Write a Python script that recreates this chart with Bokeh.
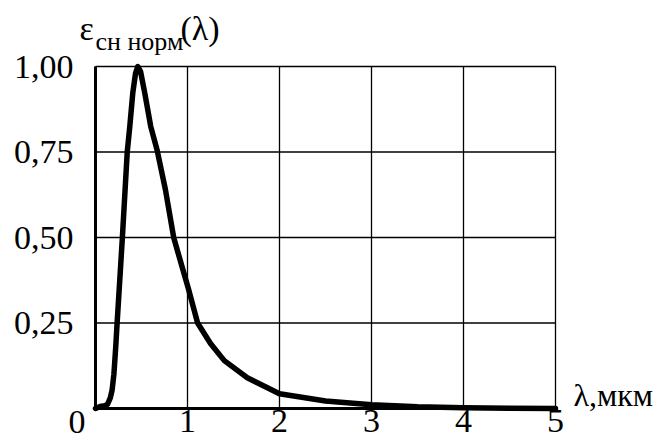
from bokeh.plotting import figure
from bokeh.models import Range1d, FixedTicker, Label, LinearAxis
from bokeh.embed import file_html
from bokeh.resources import INLINE

# Normalised spectral emissivity versus wavelength
wavelength_um = [0.0, 0.05, 0.10, 0.13, 0.16, 0.18, 0.20, 0.22, 0.235, 0.29, 0.345,
                 0.373, 0.405, 0.435, 0.46, 0.49, 0.536, 0.60, 0.67, 0.76, 0.85,
                 0.94, 1.01, 1.11, 1.25, 1.40, 1.65, 2.0, 2.5, 3.0, 3.5, 4.0, 4.5, 5.0]
emissivity_norm = [0.0, 0.006, 0.008, 0.012, 0.03, 0.053, 0.10, 0.18, 0.25, 0.49, 0.75,
                   0.825, 0.922, 0.98, 1.0, 0.985, 0.922, 0.825, 0.755, 0.64, 0.50,
                   0.415, 0.35, 0.25, 0.19, 0.14, 0.09, 0.043, 0.022, 0.011, 0.005, 0.002, 0.001, 0.0]

x_ticks = [0, 1, 2, 3, 4, 5]
y_ticks = [0.0, 0.25, 0.5, 0.75, 1.0]
y_tick_labels = {0.0: "", 0.25: "0,25", 0.5: "0,50", 0.75: "0,75", 1.0: "1,00"}
x_tick_labels = {0: "", 1: "1", 2: "2", 3: "3", 4: "4", 5: "5"}

FONT = "Liberation Serif"
W, H = 670, 438
PAD_L, PAD_R, PAD_T, PAD_B = 95, 115, 66, 30

x_lo, x_hi = x_ticks[0], x_ticks[-1]
y_lo, y_hi = y_ticks[0], y_ticks[-1]

# The frame fills the whole canvas; the data box sits inside it with room for the texts.
x_unit = (W - PAD_L - PAD_R) / (x_hi - x_lo)
y_unit = (H - PAD_T - PAD_B) / (y_hi - y_lo)
p = figure(width=W, height=H, output_backend="svg", toolbar_location=None,
           x_axis_location=None, y_axis_location=None,
           x_range=Range1d(x_lo - PAD_L / x_unit, x_hi + PAD_R / x_unit),
           y_range=Range1d(y_lo - PAD_B / y_unit, y_hi + PAD_T / y_unit),
           min_border=0)
p.background_fill_color = "white"
p.border_fill_color = "white"
p.outline_line_color = None
p.grid.visible = False

# grid confined to the data box (its last lines also form the top and right border)
p.segment(x0=x_ticks, y0=[y_lo] * len(x_ticks), x1=x_ticks, y1=[y_hi] * len(x_ticks),
          line_color="black", line_width=1.3)
p.segment(x0=[x_lo] * len(y_ticks), y0=y_ticks, x1=[x_hi] * len(y_ticks), y1=y_ticks,
          line_color="black", line_width=1.3)

x_axis = LinearAxis(fixed_location=y_lo, bounds=(x_lo, x_hi), ticker=FixedTicker(ticks=x_ticks),
                    major_label_overrides=x_tick_labels, major_label_standoff=-5)
y_axis = LinearAxis(fixed_location=x_lo, bounds=(y_lo, y_hi), ticker=FixedTicker(ticks=y_ticks),
                    major_label_overrides=y_tick_labels, major_label_standoff=16)
for ax in (x_axis, y_axis):
    ax.axis_line_width = 3
    ax.axis_line_color = "black"
    ax.major_tick_line_color = None
    ax.minor_tick_line_color = None
    ax.major_label_text_font = FONT
    ax.major_label_text_font_size = "34px"
    ax.major_label_text_color = "black"
p.add_layout(x_axis, "below")
p.add_layout(y_axis, "left")

p.line(wavelength_um, emissivity_norm, line_width=5.5, line_color="black",
       line_join="round", line_cap="round")


def add_text(x, y, text, size):
    p.add_layout(Label(x=x, y=y, x_units="canvas", y_units="canvas", text=text,
                       text_font=FONT, text_font_size=size, text_color="black",
                       text_baseline="alphabetic"))


# shared origin label and axis titles
add_text(68, 421, "0", "34px")
add_text(573, 394, "λ,мкм", "32px")
add_text(79, 28, "ε", "34px")
add_text(95, 41, "сн норм", "26px")
add_text(180, 28, "(λ)", "34px")

open("out.html", "w").write(file_html(p, INLINE))
